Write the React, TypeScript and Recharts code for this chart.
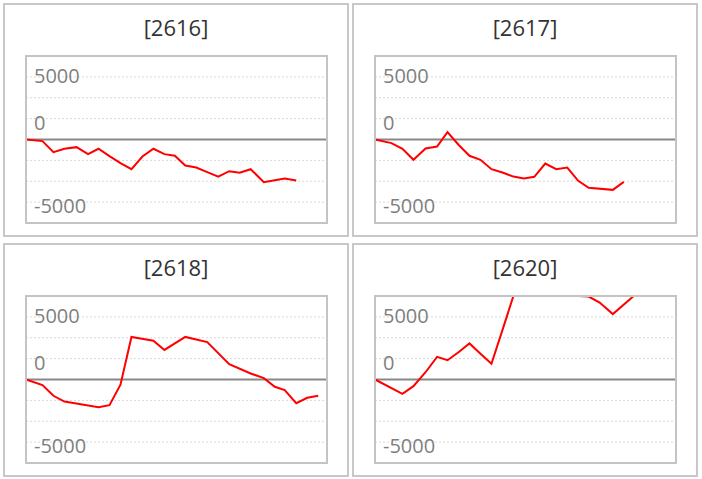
import React from 'react';
import { LineChart, Line, XAxis, YAxis, CartesianGrid, ReferenceLine } from 'recharts';

// x positions of the samples (shared by all four charts)
const days = [0, 1.5, 2.5, 3.5, 4.6, 5.65, 6.6, 7.6, 8.6, 9.6, 10.6, 11.6, 12.6, 13.55, 14.5, 15.5, 16.5, 17.5, 18.5, 19.45, 20.45, 21.65, 22.65, 23.55, 24.6, 25.6, 26.6];

const s2616 = [0, -130, -1010, -740, -610, -1170, -740, -1330, -1890, -2370, -1360, -740, -1170, -1300, -2080, -2240, -2600, -2960, -2530, -2660, -2370, -3410, -3250, -3120, -3280, null, null];
const s2617 = [0, -290, -740, -1620, -720, -560, 590, -420, -1300, -1620, -2370, -2640, -2960, -3120, -2980, -1920, -2370, -2240, -3300, -3860, null, -4020, -3380, null, null, null, null];
const s2618 = [0, -440, -1300, -1760, null, null, -2210, -2050, -420, 3400, null, 3100, 2360, null, 3400, null, 2990, null, 1230, null, 480, 110, -580, -850, -1890, -1460, -1300];
const s2620 = [0, null, -1140, -530, 580, 1810, 1540, 2180, 2880, 2060, 1260, 3940, 6667, 6667, 6667, 6667, 6667, 6667, 6667, 6620, 6140, 5220, null, 6667, 6667, 6667, 6667];

const titles = ['[2616]', '[2617]', '[2618]', '[2620]'];
const series = [s2616, s2617, s2618, s2620];

const yTicks = [-5000, -3333, -1667, 0, 1667, 3333, 5000];
const yLabels = [5000, 0, -5000];
const yDomain: [number, number] = [-6667, 6667];
const xDomain: [number, number] = [0, 27.4];

const FONT = '"Open Sans", "Noto Sans", sans-serif';
const M = 2;
const labelShift: Record<string, number> = { '5000': -1, '0': -17, '-5000': 3 };

const panelPos = [
  { left: 3, top: 3 },
  { left: 352, top: 3 },
  { left: 3, top: 243 },
  { left: 352, top: 243 },
];

const YTick = (props: any) => {
  const { y, payload } = props;
  if (!yLabels.includes(Number(payload.value))) return <g />;
  return (
    <text
      x={M + 8}
      y={y + labelShift[String(payload.value)]}
      dominantBaseline="central"
      textAnchor="start"
      fill="#7f7f7f"
      fontSize={20}
      fontFamily={FONT}
    >
      {payload.value}
    </text>
  );
};

const Panel = ({ title, values, pos }: { title: string; values: (number | null)[]; pos: { left: number; top: number } }) => {
  const data = days.map((d, i) => ({ day: d, v: values[i] }));
  return (
    <div
      style={{
        position: 'absolute',
        left: pos.left,
        top: pos.top,
        width: 346,
        height: 234,
        boxSizing: 'border-box',
        border: '2px solid #c8c8c8',
        background: '#fff',
      }}
    >
      <div
        style={{
          position: 'absolute',
          left: 0,
          right: 0,
          top: 9,
          height: 26,
          lineHeight: '26px',
          textAlign: 'center',
          fontFamily: FONT,
          fontSize: 22,
          color: '#333',
        }}
      >
        {title}
      </div>
      <div style={{ position: 'absolute', left: 19, top: 49 }}>
        <LineChart width={305} height={171} data={data} margin={{ top: M, right: M, bottom: M, left: M }}>
          <CartesianGrid vertical={false} stroke="#d8d8d8" strokeDasharray="2 2" />
          <XAxis dataKey="day" type="number" domain={xDomain} hide />
          <YAxis
            type="number"
            domain={yDomain}
            ticks={yTicks}
            interval={0}
            width={60}
            mirror
            axisLine={false}
            tickLine={false}
            tick={<YTick />}
          />
          <ReferenceLine y={0} stroke="#888" strokeWidth={2} />
          <Line
            type="linear"
            dataKey="v"
            stroke="#ff0000"
            strokeWidth={2}
            dot={false}
            connectNulls
            isAnimationActive={false}
          />
        </LineChart>
      </div>
      <div
        style={{
          position: 'absolute',
          left: 19 + M - 1,
          top: 49 + M - 1,
          width: 303,
          height: 169,
          boxSizing: 'border-box',
          border: '2px solid #c4c4c4',
          pointerEvents: 'none',
        }}
      />
    </div>
  );
}

export default function App() {
  return (
    <div style={{ position: 'absolute', left: 0, top: 0, width: 702, height: 479, background: '#fff' }}>
      {titles.map((t, i) => (
        <Panel key={t} title={t} values={series[i]} pos={panelPos[i]} />
      ))}
    </div>
  );
}
